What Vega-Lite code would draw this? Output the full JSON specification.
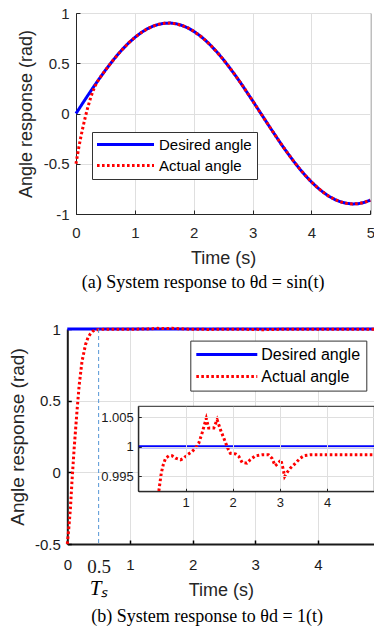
{
  "$schema": "https://vega.github.io/schema/vega-lite/v6.json",
  "padding": {"left": 8, "top": 5, "right": 0, "bottom": 0},
  "background": "white",
  "config": {
    "font": "Liberation Sans",
    "view": {"stroke": null},
    "axis": {
      "labelFont": "Liberation Sans",
      "titleFont": "Liberation Sans",
      "labelColor": "#262626",
      "titleColor": "#262626",
      "titleFontWeight": "normal",
      "gridColor": "#dfdfdf",
      "gridOpacity": 1,
      "domainColor": "#262626",
      "tickColor": "#262626",
      "labelFlush": false,
      "labelOverlap": false
    },
    "title": {"font": "Liberation Serif", "fontWeight": "normal", "color": "#000000"}
  },
  "datasets": {
    "sinData": [
      {"t": 0, "v": 0, "s": "Desired angle"},
      {"t": 0.1, "v": 0.09, "s": "Desired angle"},
      {"t": 0.2, "v": 0.179, "s": "Desired angle"},
      {"t": 0.3, "v": 0.266, "s": "Desired angle"},
      {"t": 0.4, "v": 0.35, "s": "Desired angle"},
      {"t": 0.5, "v": 0.431, "s": "Desired angle"},
      {"t": 0.6, "v": 0.508, "s": "Desired angle"},
      {"t": 0.7, "v": 0.58, "s": "Desired angle"},
      {"t": 0.8, "v": 0.646, "s": "Desired angle"},
      {"t": 0.9, "v": 0.705, "s": "Desired angle"},
      {"t": 1.0, "v": 0.757, "s": "Desired angle"},
      {"t": 1.1, "v": 0.802, "s": "Desired angle"},
      {"t": 1.2, "v": 0.839, "s": "Desired angle"},
      {"t": 1.3, "v": 0.867, "s": "Desired angle"},
      {"t": 1.4, "v": 0.887, "s": "Desired angle"},
      {"t": 1.5, "v": 0.898, "s": "Desired angle"},
      {"t": 1.6, "v": 0.9, "s": "Desired angle"},
      {"t": 1.7, "v": 0.893, "s": "Desired angle"},
      {"t": 1.8, "v": 0.876, "s": "Desired angle"},
      {"t": 1.9, "v": 0.852, "s": "Desired angle"},
      {"t": 2.0, "v": 0.818, "s": "Desired angle"},
      {"t": 2.1, "v": 0.777, "s": "Desired angle"},
      {"t": 2.2, "v": 0.728, "s": "Desired angle"},
      {"t": 2.3, "v": 0.671, "s": "Desired angle"},
      {"t": 2.4, "v": 0.608, "s": "Desired angle"},
      {"t": 2.5, "v": 0.539, "s": "Desired angle"},
      {"t": 2.6, "v": 0.464, "s": "Desired angle"},
      {"t": 2.7, "v": 0.385, "s": "Desired angle"},
      {"t": 2.8, "v": 0.302, "s": "Desired angle"},
      {"t": 2.9, "v": 0.215, "s": "Desired angle"},
      {"t": 3.0, "v": 0.127, "s": "Desired angle"},
      {"t": 3.1, "v": 0.037, "s": "Desired angle"},
      {"t": 3.2, "v": -0.053, "s": "Desired angle"},
      {"t": 3.3, "v": -0.142, "s": "Desired angle"},
      {"t": 3.4, "v": -0.23, "s": "Desired angle"},
      {"t": 3.5, "v": -0.316, "s": "Desired angle"},
      {"t": 3.6, "v": -0.398, "s": "Desired angle"},
      {"t": 3.7, "v": -0.477, "s": "Desired angle"},
      {"t": 3.8, "v": -0.551, "s": "Desired angle"},
      {"t": 3.9, "v": -0.619, "s": "Desired angle"},
      {"t": 4.0, "v": -0.681, "s": "Desired angle"},
      {"t": 4.1, "v": -0.736, "s": "Desired angle"},
      {"t": 4.2, "v": -0.784, "s": "Desired angle"},
      {"t": 4.3, "v": -0.825, "s": "Desired angle"},
      {"t": 4.4, "v": -0.856, "s": "Desired angle"},
      {"t": 4.5, "v": -0.88, "s": "Desired angle"},
      {"t": 4.6, "v": -0.894, "s": "Desired angle"},
      {"t": 4.7, "v": -0.9, "s": "Desired angle"},
      {"t": 4.8, "v": -0.897, "s": "Desired angle"},
      {"t": 4.9, "v": -0.884, "s": "Desired angle"},
      {"t": 5.0, "v": -0.863, "s": "Desired angle"},
      {"t": 0, "v": -0.5, "s": "Actual angle"},
      {"t": 0.02, "v": -0.43, "s": "Actual angle"},
      {"t": 0.05, "v": -0.33, "s": "Actual angle"},
      {"t": 0.08, "v": -0.24, "s": "Actual angle"},
      {"t": 0.12, "v": -0.13, "s": "Actual angle"},
      {"t": 0.16, "v": -0.03, "s": "Actual angle"},
      {"t": 0.2, "v": 0.06, "s": "Actual angle"},
      {"t": 0.25, "v": 0.16, "s": "Actual angle"},
      {"t": 0.3, "v": 0.24, "s": "Actual angle"},
      {"t": 0.35, "v": 0.305, "s": "Actual angle"},
      {"t": 0.4, "v": 0.35, "s": "Actual angle"},
      {"t": 0.5, "v": 0.431, "s": "Actual angle"},
      {"t": 0.6, "v": 0.508, "s": "Actual angle"},
      {"t": 0.7, "v": 0.58, "s": "Actual angle"},
      {"t": 0.8, "v": 0.646, "s": "Actual angle"},
      {"t": 0.9, "v": 0.705, "s": "Actual angle"},
      {"t": 1.0, "v": 0.757, "s": "Actual angle"},
      {"t": 1.1, "v": 0.802, "s": "Actual angle"},
      {"t": 1.2, "v": 0.839, "s": "Actual angle"},
      {"t": 1.3, "v": 0.867, "s": "Actual angle"},
      {"t": 1.4, "v": 0.887, "s": "Actual angle"},
      {"t": 1.5, "v": 0.898, "s": "Actual angle"},
      {"t": 1.6, "v": 0.9, "s": "Actual angle"},
      {"t": 1.7, "v": 0.893, "s": "Actual angle"},
      {"t": 1.8, "v": 0.876, "s": "Actual angle"},
      {"t": 1.9, "v": 0.852, "s": "Actual angle"},
      {"t": 2.0, "v": 0.818, "s": "Actual angle"},
      {"t": 2.1, "v": 0.777, "s": "Actual angle"},
      {"t": 2.2, "v": 0.728, "s": "Actual angle"},
      {"t": 2.3, "v": 0.671, "s": "Actual angle"},
      {"t": 2.4, "v": 0.608, "s": "Actual angle"},
      {"t": 2.5, "v": 0.539, "s": "Actual angle"},
      {"t": 2.6, "v": 0.464, "s": "Actual angle"},
      {"t": 2.7, "v": 0.385, "s": "Actual angle"},
      {"t": 2.8, "v": 0.302, "s": "Actual angle"},
      {"t": 2.9, "v": 0.215, "s": "Actual angle"},
      {"t": 3.0, "v": 0.127, "s": "Actual angle"},
      {"t": 3.1, "v": 0.037, "s": "Actual angle"},
      {"t": 3.2, "v": -0.053, "s": "Actual angle"},
      {"t": 3.3, "v": -0.142, "s": "Actual angle"},
      {"t": 3.4, "v": -0.23, "s": "Actual angle"},
      {"t": 3.5, "v": -0.316, "s": "Actual angle"},
      {"t": 3.6, "v": -0.398, "s": "Actual angle"},
      {"t": 3.7, "v": -0.477, "s": "Actual angle"},
      {"t": 3.8, "v": -0.551, "s": "Actual angle"},
      {"t": 3.9, "v": -0.619, "s": "Actual angle"},
      {"t": 4.0, "v": -0.681, "s": "Actual angle"},
      {"t": 4.1, "v": -0.736, "s": "Actual angle"},
      {"t": 4.2, "v": -0.784, "s": "Actual angle"},
      {"t": 4.3, "v": -0.825, "s": "Actual angle"},
      {"t": 4.4, "v": -0.856, "s": "Actual angle"},
      {"t": 4.5, "v": -0.88, "s": "Actual angle"},
      {"t": 4.6, "v": -0.894, "s": "Actual angle"},
      {"t": 4.7, "v": -0.9, "s": "Actual angle"},
      {"t": 4.8, "v": -0.897, "s": "Actual angle"},
      {"t": 4.9, "v": -0.884, "s": "Actual angle"},
      {"t": 5.0, "v": -0.863, "s": "Actual angle"}
    ],
    "stepData": [
      {"t": 0, "v": 1, "s": "Desired angle"},
      {"t": 5, "v": 1, "s": "Desired angle"},
      {"t": 0, "v": -0.5, "s": "Actual angle"},
      {"t": 0.02, "v": -0.41, "s": "Actual angle"},
      {"t": 0.05, "v": -0.25, "s": "Actual angle"},
      {"t": 0.075, "v": -0.06, "s": "Actual angle"},
      {"t": 0.11, "v": 0.17, "s": "Actual angle"},
      {"t": 0.155, "v": 0.43, "s": "Actual angle"},
      {"t": 0.19, "v": 0.61, "s": "Actual angle"},
      {"t": 0.235, "v": 0.775, "s": "Actual angle"},
      {"t": 0.29, "v": 0.89, "s": "Actual angle"},
      {"t": 0.33, "v": 0.94, "s": "Actual angle"},
      {"t": 0.37, "v": 0.968, "s": "Actual angle"},
      {"t": 0.4, "v": 0.982, "s": "Actual angle"},
      {"t": 0.435, "v": 0.9925, "s": "Actual angle"},
      {"t": 0.486, "v": 0.9955, "s": "Actual angle"},
      {"t": 0.528, "v": 0.99695, "s": "Actual angle"},
      {"t": 0.577, "v": 0.99807, "s": "Actual angle"},
      {"t": 0.647, "v": 0.99847, "s": "Actual angle"},
      {"t": 0.718, "v": 0.99847, "s": "Actual angle"},
      {"t": 0.789, "v": 0.99807, "s": "Actual angle"},
      {"t": 0.894, "v": 0.9978, "s": "Actual angle"},
      {"t": 0.965, "v": 0.99807, "s": "Actual angle"},
      {"t": 1.035, "v": 0.99864, "s": "Actual angle"},
      {"t": 1.14, "v": 0.9992, "s": "Actual angle"},
      {"t": 1.21, "v": 0.99976, "s": "Actual angle"},
      {"t": 1.28, "v": 1.0006, "s": "Actual angle"},
      {"t": 1.35, "v": 1.0023, "s": "Actual angle"},
      {"t": 1.4, "v": 1.0037, "s": "Actual angle"},
      {"t": 1.44, "v": 1.0048, "s": "Actual angle"},
      {"t": 1.49, "v": 1.0032, "s": "Actual angle"},
      {"t": 1.6, "v": 1.0032, "s": "Actual angle"},
      {"t": 1.67, "v": 1.0046, "s": "Actual angle"},
      {"t": 1.74, "v": 1.0029, "s": "Actual angle"},
      {"t": 1.81, "v": 1.0015, "s": "Actual angle"},
      {"t": 1.895, "v": 0.99976, "s": "Actual angle"},
      {"t": 1.95, "v": 0.9989, "s": "Actual angle"},
      {"t": 2.06, "v": 0.9988, "s": "Actual angle"},
      {"t": 2.13, "v": 0.99836, "s": "Actual angle"},
      {"t": 2.2, "v": 0.99734, "s": "Actual angle"},
      {"t": 2.3, "v": 0.99722, "s": "Actual angle"},
      {"t": 2.37, "v": 0.9978, "s": "Actual angle"},
      {"t": 2.48, "v": 0.99847, "s": "Actual angle"},
      {"t": 2.62, "v": 0.99864, "s": "Actual angle"},
      {"t": 2.76, "v": 0.99864, "s": "Actual angle"},
      {"t": 2.83, "v": 0.99807, "s": "Actual angle"},
      {"t": 2.9, "v": 0.99678, "s": "Actual angle"},
      {"t": 2.97, "v": 0.99722, "s": "Actual angle"},
      {"t": 3.02, "v": 0.9978, "s": "Actual angle"},
      {"t": 3.065, "v": 0.99637, "s": "Actual angle"},
      {"t": 3.1, "v": 0.99497, "s": "Actual angle"},
      {"t": 3.15, "v": 0.99564, "s": "Actual angle"},
      {"t": 3.22, "v": 0.99637, "s": "Actual angle"},
      {"t": 3.33, "v": 0.99722, "s": "Actual angle"},
      {"t": 3.43, "v": 0.99807, "s": "Actual angle"},
      {"t": 3.52, "v": 0.99852, "s": "Actual angle"},
      {"t": 3.64, "v": 0.99864, "s": "Actual angle"},
      {"t": 5.0, "v": 0.99864, "s": "Actual angle"}
    ]
  },
  "spacing": 29,
  "resolve": {"scale": {"color": "independent", "strokeDash": "independent"}, "legend": {"color": "independent", "strokeDash": "independent"}},
  "vconcat": [
    {
      "width": 294.3,
      "height": 201,
      "view": {"stroke": "#262626", "strokeWidth": 1},
      "title": {"text": "(a) System response to  θd = sin(t)", "orient": "bottom", "anchor": "middle", "fontSize": 18, "offset": 7, "dx": -20},
      "data": {"name": "sinData"},
      "mark": {"type": "line", "strokeWidth": 3, "strokeCap": "butt"},
      "encoding": {
        "x": {"field": "t", "type": "quantitative", "scale": {"domain": [0, 5], "nice": false},
          "axis": {"values": [0, 1, 2, 3, 4, 5], "title": "Time (s)", "titleFontSize": 18, "labelFontSize": 15, "tickSize": -4, "labelPadding": 15, "titlePadding": 9}},
        "y": {"field": "v", "type": "quantitative", "scale": {"domain": [-1, 1], "nice": false},
          "axis": {"values": [-1, -0.5, 0, 0.5, 1], "labelExpr": "toString(datum.value)", "title": "Angle response (rad)", "titleFontSize": 18, "labelFontSize": 15, "tickSize": -4, "labelPadding": 11, "titlePadding": 8}},
        "color": {"field": "s", "type": "nominal", "scale": {"domain": ["Desired angle", "Actual angle"], "range": ["#0000ff", "#ff0000"]},
          "legend": {"title": null, "orient": "none", "legendX": 16, "legendY": 119, "symbolType": "M-1.5,0H9.9", "symbolSize": 100, "symbolStrokeWidth": 3, "labelFontSize": 15, "labelFont": "Liberation Sans", "labelColor": "#000000", "labelOffset": 47, "padding": 5, "rowPadding": 5, "strokeColor": "#333333", "fillColor": "#ffffff"}},
        "strokeDash": {"field": "s", "type": "nominal", "scale": {"domain": ["Desired angle", "Actual angle"], "range": [[1, 0], [2.6, 2.4]]},
          "legend": {"title": null, "orient": "none", "legendX": 16, "legendY": 119, "symbolType": "M-1.5,0H9.9", "symbolSize": 100, "symbolStrokeWidth": 3, "labelFontSize": 15, "labelFont": "Liberation Sans", "labelColor": "#000000", "labelOffset": 47, "padding": 5, "rowPadding": 5, "strokeColor": "#333333", "fillColor": "#ffffff"}}
      }
    },
    {
      "width": 298.3,
      "height": 215,
      "view": {"stroke": null},
      "title": {"text": "(b) System response to  θd = 1(t)", "orient": "bottom", "anchor": "middle", "fontSize": 18, "offset": 8, "dx": -18},
      "layer": [
        {
          "data": {"name": "stepData"},
          "layer": [
            {
              "mark": {"type": "line", "strokeWidth": 3, "strokeCap": "butt"},
              "encoding": {
                "x": {"field": "t", "type": "quantitative", "scale": {"domain": [0, 4.9], "range": [-8.7, 298.3], "nice": false},
                  "axis": {"orient": "bottom", "values": [0, 0.5, 1, 2, 3, 4], "labelExpr": "toString(datum.value)", "title": "Time (s)", "titleFontSize": 18, "titlePadding": 5,
                    "labelFontSize": {"condition": {"test": "datum.value == 0.5", "value": 19}, "value": 15},
                    "labelFont": {"condition": {"test": "datum.value == 0.5", "value": "Liberation Serif"}, "value": "Liberation Sans"},
                    "labelColor": "#1a1a1a",
                    "gridOpacity": {"condition": {"test": "datum.value == 0.5", "value": 0}, "value": 1},
                    "tickOpacity": {"condition": {"test": "datum.value == 0.5", "value": 0}, "value": 1},
                    "tickSize": -4, "tickColor": "#000000", "tickWidth": 1.5, "labelPadding": 17, "domainColor": "#1a1a1a", "domainWidth": 2}},
                "y": {"field": "v", "type": "quantitative", "scale": {"domain": [-0.5, 1], "nice": false},
                  "axis": {"orient": "left", "offset": 8.7, "values": [-0.5, 0, 0.5, 1], "labelExpr": "toString(datum.value)", "title": "Angle response (rad)", "titleFontSize": 19, "labelFontSize": 15, "labelColor": "#1a1a1a", "tickSize": -4, "tickColor": "#000000", "tickWidth": 1.5, "labelPadding": 11, "titlePadding": 7.4, "domainColor": "#1a1a1a", "domainWidth": 2}},
                "color": {"field": "s", "type": "nominal", "scale": {"domain": ["Desired angle", "Actual angle"], "range": ["#0000ff", "#ff0000"]},
                  "legend": {"title": null, "orient": "none", "legendX": 114.3, "legendY": 11.6, "symbolType": "M-1.6,0H10.6", "symbolSize": 100, "symbolStrokeWidth": 3, "labelFontSize": 16, "labelFont": "Liberation Sans", "labelColor": "#000000", "labelOffset": 49, "padding": 6, "rowPadding": 6, "strokeColor": "#333333", "fillColor": "#ffffff"}},
                "strokeDash": {"field": "s", "type": "nominal", "scale": {"domain": ["Desired angle", "Actual angle"], "range": [[1, 0], [2.6, 2.4]]},
                  "legend": {"title": null, "orient": "none", "legendX": 114.3, "legendY": 11.6, "symbolType": "M-1.6,0H10.6", "symbolSize": 100, "symbolStrokeWidth": 3, "labelFontSize": 16, "labelFont": "Liberation Sans", "labelColor": "#000000", "labelOffset": 49, "padding": 6, "rowPadding": 6, "strokeColor": "#333333", "fillColor": "#ffffff"}}
              }
            },
            {
              "data": {"values": [{"t": 0.5}]},
              "mark": {"type": "rule", "color": "#5596d6", "strokeWidth": 1, "strokeDash": [4, 3]},
              "encoding": {
                "x": {"field": "t", "type": "quantitative",
                  "axis": {"orient": "top", "offset": -271, "values": [0.5], "labelExpr": "'Tₛ'", "domain": false, "ticks": false, "grid": false, "title": null, "labelFont": "Liberation Serif", "labelFontStyle": "italic", "labelFontSize": 21, "labelColor": "#000000", "labelPadding": 2}}
              }
            }
          ]
        },
        {
          "layer": [
            {
              "data": {"values": [{}]},
              "mark": {"type": "rect", "fill": "#ffffff", "stroke": "#262626", "strokeWidth": 1},
              "encoding": {
                "x": {"datum": 0, "type": "quantitative", "scale": {"domain": [0, 5], "range": [62.3, 298.3], "nice": false}, "axis": null},
                "x2": {"datum": 5},
                "y": {"datum": 0.99246, "type": "quantitative", "scale": {"domain": [0.99246, 1.00686], "range": [162.3, 77.3], "nice": false}, "axis": null},
                "y2": {"datum": 1.00686}
              }
            },
            {
              "data": {"name": "stepData"},
              "transform": [{"filter": "datum.s == 'Desired angle'"}],
              "mark": {"type": "line", "color": "#0000ff", "strokeWidth": 3},
              "encoding": {
                "x": {"field": "t", "type": "quantitative",
                  "axis": {"orient": "bottom", "offset": -52.7, "values": [1, 2, 3, 4], "grid": false, "title": null, "labelFontSize": 13, "labelColor": "#1a1a1a", "tickSize": -3, "labelPadding": 8, "domainColor": "#1a1a1a", "zindex": 1}},
                "y": {"field": "v", "type": "quantitative",
                  "axis": {"orient": "left", "offset": -62.3, "values": [0.995, 1, 1.005], "labelExpr": "toString(datum.value)", "grid": true, "title": null, "labelFontSize": 13, "labelColor": "#1a1a1a", "tickSize": -3, "labelPadding": 8, "domainColor": "#1a1a1a", "zindex": 1}}
              }
            },
            {
              "data": {"name": "stepData"},
              "transform": [{"filter": "datum.s == 'Actual angle' && datum.v >= 0.9925"}],
              "mark": {"type": "line", "color": "#ff0000", "strokeWidth": 3, "strokeDash": [2.6, 2.4], "strokeCap": "butt"},
              "encoding": {
                "x": {"field": "t", "type": "quantitative",
                  "axis": {"orient": "top", "values": [1, 2, 3, 4], "domain": false, "ticks": false, "labels": false, "grid": true, "title": null, "zindex": 1}},
                "y": {"field": "v", "type": "quantitative", "axis": null}
              }
            }
          ],
          "resolve": {"axis": {"x": "independent", "y": "independent"}}
        }
      ],
      "resolve": {"scale": {"x": "independent", "y": "independent"}, "axis": {"x": "independent", "y": "independent"}}
    }
  ]
}
